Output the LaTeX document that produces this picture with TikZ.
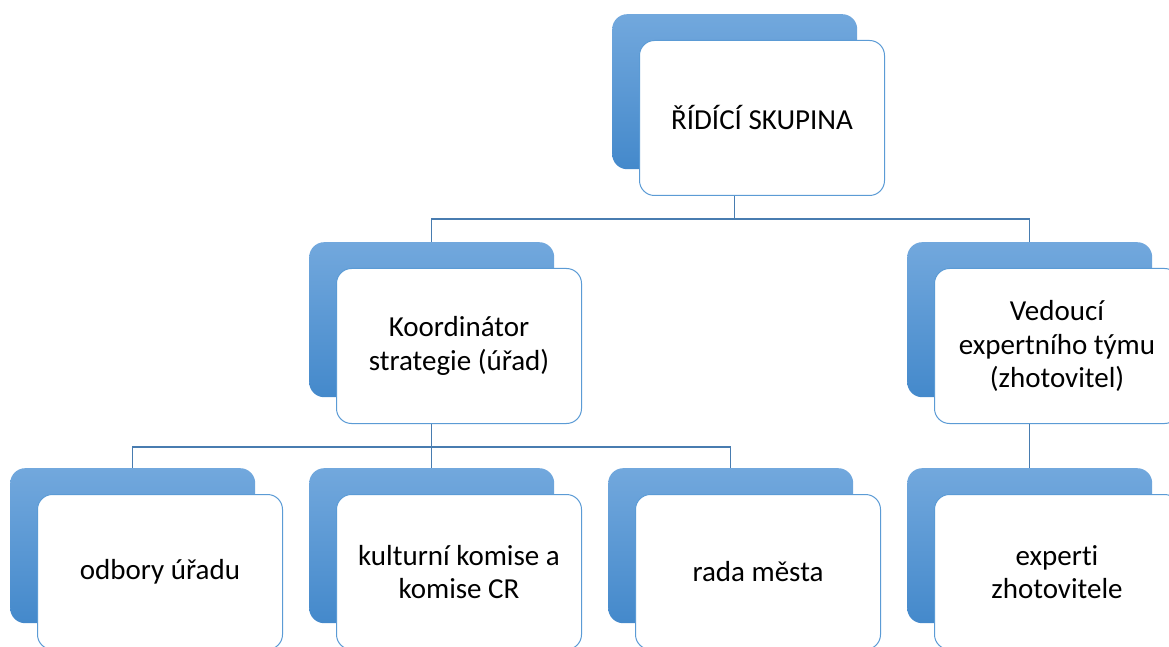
\documentclass[tikz,border=0pt]{standalone}
\usepackage{fontspec}
\setmainfont{Carlito}[Ligatures={NoCommon}]
\definecolor{bluetop}{RGB}{114,168,221}
\definecolor{bluebot}{RGB}{68,137,203}
\definecolor{frontline}{RGB}{91,155,213}
\definecolor{linkcol}{RGB}{72,124,176}
\tikzset{
  backbox/.style={rectangle, rounded corners=15pt, minimum width=245pt, minimum height=155pt,
    top color=bluetop, bottom color=bluebot, draw=none, inner sep=0pt, anchor=north west},
  frontbox/.style={rectangle, rounded corners=15pt, minimum width=245pt, minimum height=155pt,
    fill=white, draw=frontline, line width=1pt, align=center, inner sep=0pt, anchor=north west,
    font=\fontsize{29}{33.5}\selectfont},
  link/.style={draw=linkcol, line width=1.2pt}
}
\begin{document}
\begin{tikzpicture}[x=1pt,y=1pt]
\useasboundingbox (0,0) rectangle (1169,646);
\clip (0,0) rectangle (1169,646);
% level 0
\node[backbox] (topB) at (612,632) {};
\node[frontbox] (topF) at (639,606) {ŘÍDÍCÍ SKUPINA};
% level 1
\node[backbox] (koB) at (309,404) {};
\node[frontbox] (koF) at (336,378) {Koordinátor\\strategie (úřad)};
\node[backbox] (veB) at (907,404) {};
\node[frontbox] (veF) at (934,378) {Vedoucí\\expertního týmu\\(zhotovitel)};
% level 2
\node[backbox] (odB) at (10,178) {};
\node[frontbox] (odF) at (37,152) {odbory úřadu};
\node[backbox] (kuB) at (309,178) {};
\node[frontbox] (kuF) at (336,152) {kulturní komise a\\komise CR};
\node[backbox] (raB) at (608,178) {};
\node[frontbox] (raF) at (635,152) {rada města};
\node[backbox] (exB) at (907,178) {};
\node[frontbox] (exF) at (934,152) {experti\\zhotovitele};
% connectors
\draw[link] (topB.south |- topF.south) -- ++(0,-23) coordinate (j1);
\draw[link] (j1) -| (koB.north);
\draw[link] (j1) -| (veB.north);
\draw[link] (koB.south |- koF.south) -- ++(0,-23) coordinate (j2);
\draw[link] (j2) -| (odB.north);
\draw[link] (j2) -- (kuB.north);
\draw[link] (j2) -| (raB.north);
\draw[link] (veB.south |- veF.south) -- (exB.north);
\end{tikzpicture}
\end{document}
